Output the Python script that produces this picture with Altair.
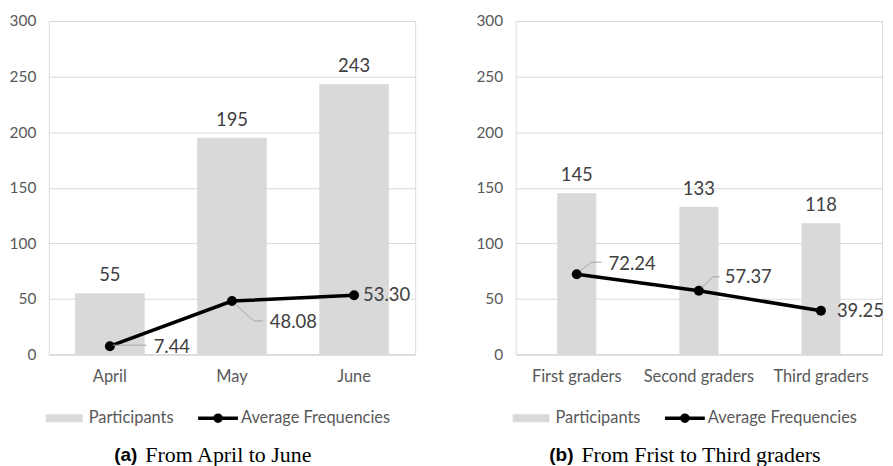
import altair as alt
import pandas as pd

months = ["April", "May", "June"]
participants_a = [55, 195, 243]
freq_a = [7.44, 48.08, 53.30]

grades = ["First graders", "Second graders", "Third graders"]
participants_b = [145, 133, 118]
freq_b = [72.24, 57.37, 39.25]

legend_labels = ["Participants", "Average Frequencies"]
captions = [("(a)", "From April to June"), ("(b)", "From Frist to Third graders")]
y_ticks = [0, 50, 100, 150, 200, 250, 300]

FONT = "Lato"
GRAY = "#d9d9d9"
W, H = 368, 335

# label placement per point: (dx, dy, leader segments [(x0,y0,x1,y1)] in px offsets)
label_style_a = [
    (44, 1, [(3, -1, 37, -1)]),
    (38, 21, [(3, 3, 22, 20), (22, 20, 31, 20)]),
    (9, 0, []),
]
label_style_b = [
    (32, -10, [(3, -3, 15, -12), (15, -12, 25, -12)]),
    (26, -14, [(3, -3, 14, -14), (14, -14, 21, -14)]),
    (16, 0, []),
]


def panel(cats, parts, freqs, bar_frac, styles, caption):
    df = pd.DataFrame({"cat": cats, "participants": parts, "freq": freqs})
    x = alt.X("cat:N", sort=cats, title=None,
              scale=alt.Scale(paddingInner=bar_frac, paddingOuter=bar_frac / 2),
              axis=alt.Axis(labelAngle=0, labelFont=FONT, labelFontSize=16.5,
                            labelColor="#595959", labelPadding=14, ticks=False,
                            domainColor=GRAY, grid=False))
    y = alt.Y("participants:Q", title=None,
              scale=alt.Scale(domain=[0, 300]),
              axis=alt.Axis(values=y_ticks, labelFont=FONT, labelFontSize=15.5,
                            labelColor="#595959", labelPadding=13, ticks=False,
                            tickSize=0, domain=False, gridColor=GRAY,
                            minExtent=40, maxExtent=40))
    base = alt.Chart(df)
    bars = base.mark_bar(color=GRAY).encode(x=x, y=y)
    bar_text = base.mark_text(font=FONT, fontSize=18.5, color="#404040",
                              baseline="bottom", dy=-8).encode(
        x=alt.X("cat:N", sort=cats), y="participants:Q",
        text=alt.Text("participants:Q"))
    line = base.mark_line(color="black", strokeWidth=3.5).encode(
        x=alt.X("cat:N", sort=cats), y="freq:Q")
    pts = base.mark_point(filled=True, color="black", size=100, opacity=1).encode(
        x=alt.X("cat:N", sort=cats), y="freq:Q")
    layers = [bars, bar_text, line, pts]
    for c, (dx, dy, segs) in zip(cats, styles):
        sub = base.transform_filter(alt.datum.cat == c)
        layers.append(sub.mark_text(font=FONT, fontSize=18.5, color="#404040",
                                    align="left", baseline="middle", dx=dx, dy=dy).encode(
            x=alt.X("cat:N", sort=cats), y="freq:Q",
            text=alt.Text("freq:Q", format=".2f")))
        for (x0, y0, x1, y1) in segs:
            layers.append(sub.mark_rule(color="#a6a6a6", strokeWidth=1,
                                        xOffset=x0, yOffset=y0,
                                        x2Offset=x1, y2Offset=y1).encode(
                x=alt.X("cat:N", sort=cats), x2="cat:N",
                y="freq:Q", y2="freq:Q"))
    one = alt.Chart(pd.DataFrame({"k": [0]}))
    ly = 399
    layers += [
        one.mark_rect(color=GRAY).encode(x=alt.value(-3), x2=alt.value(34),
                                        y=alt.value(ly - 4), y2=alt.value(ly + 4)),
        one.mark_text(font=FONT, fontSize=16.5, color="#595959", align="left",
                      baseline="middle").encode(x=alt.value(40), y=alt.value(ly),
                                                text=alt.value(legend_labels[0])),
        one.mark_rule(color="black", strokeWidth=3.5).encode(
            x=alt.value(150), x2=alt.value(190), y=alt.value(ly)),
        one.mark_point(filled=True, color="black", size=90, opacity=1).encode(
            x=alt.value(170), y=alt.value(ly)),
        one.mark_text(font=FONT, fontSize=16.5, color="#595959", align="left",
                      baseline="middle").encode(x=alt.value(193), y=alt.value(ly),
                                                text=alt.value(legend_labels[1])),
    ]
    cx = caption[2]
    layers += [
        one.mark_text(font="Liberation Sans", fontWeight="bold", fontSize=19,
                      color="black", align="right", baseline="middle").encode(
            x=alt.value(cx), y=alt.value(436), text=alt.value(caption[0])),
        one.mark_text(font="Liberation Serif", fontSize=22, color="black",
                      align="left", baseline="middle").encode(
            x=alt.value(cx + 8), y=alt.value(436), text=alt.value(caption[1])),
    ]
    return alt.layer(*layers).properties(width=W, height=H)


left = panel(months, participants_a, freq_a, 0.43, label_style_a,
             (captions[0][0], captions[0][1], 89))
right = panel(grades, participants_b, freq_b, 0.68, label_style_b,
              (captions[1][0], captions[1][1], 58))

chart = alt.hconcat(left, right, spacing=101, bounds="flush").properties(
    padding={"left": 0, "top": 4, "right": 0, "bottom": 0}
).configure_view(stroke=None).configure(background="white")

chart.save("out.html", embed_options={"renderer": "svg", "actions": False})
